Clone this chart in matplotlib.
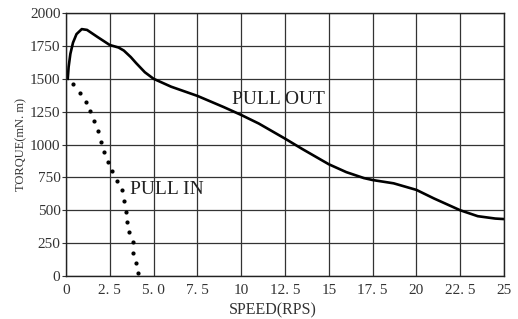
import matplotlib.pyplot as plt

# pull-out torque curve (speed rps, torque mN.m)
out_speed = [0.1, 0.15, 0.25, 0.4, 0.6, 0.9, 1.2, 1.8, 2.5, 3.0, 3.3, 3.7, 4.0, 4.5, 5.0,
             6.0, 7.5, 9.0, 10.0, 11.0, 12.5, 13.5, 15.0, 16.0, 17.0, 17.5, 18.7, 20.0,
             21.0, 22.5, 23.5, 24.5, 25.0]
out_torque = [1500, 1590, 1690, 1775, 1840, 1878, 1872, 1818, 1757, 1738, 1715, 1665, 1620,
              1550, 1500, 1440, 1370, 1285, 1225, 1160, 1045, 965, 850, 790, 745, 730, 705,
              655, 590, 500, 455, 437, 433]

# pull-in points
in_speed = [0.42, 0.8, 1.12, 1.37, 1.6, 1.8, 1.99, 2.17, 2.4, 2.63, 2.93, 3.2, 3.33,
            3.4, 3.48, 3.6, 3.8, 3.84, 4.0, 4.12]
in_torque = [1460, 1392, 1323, 1255, 1179, 1103, 1019, 943, 867, 798, 722, 654, 570,
             487, 411, 335, 258, 175, 99, 23]

xticks = [0, 2.5, 5, 7.5, 10, 12.5, 15, 17.5, 20, 22.5, 25]
xlabels = ['0', '2. 5', '5. 0', '7. 5', '10', '12. 5', '15', '17. 5', '20', '22. 5', '25']
yticks = list(range(0, 2001, 250))

plt.rcParams['font.family'] = ['Liberation Serif', 'DejaVu Serif']

fig = plt.figure(figsize=(5.18, 3.19), dpi=100)
ax = fig.add_axes([0.1274, 0.1348, 0.973 - 0.1274, 0.959 - 0.1348])

ax.plot(out_speed, out_torque, color='black', lw=1.9, solid_joinstyle='round')
ax.plot(in_speed, in_torque, ls='none', marker='o', ms=2.0, color='black')

ax.set_xlim(0, 25)
ax.set_ylim(0, 2000)
ax.set_xticks(xticks)
ax.set_xticklabels(xlabels)
ax.set_yticks(yticks)
ax.grid(True, color='#333333', lw=0.9)
ax.tick_params(axis='x', length=0, labelsize=11, pad=6, colors='#333333')
ax.tick_params(axis='y', length=3, labelsize=11, pad=1, colors='#333333')
for s in ax.spines.values():
    s.set_color('#222222')
    s.set_linewidth(1)

ax.set_xlabel('SPEED(RPS)', fontsize=11.5, color='#333333', labelpad=2)
ax.xaxis.set_label_coords(0.473, -0.1)
ax.set_ylabel('TORQUE(mN. m)', fontsize=9, color='#333333', labelpad=2)

ax.text(12.1, 1345, 'PULL OUT', fontsize=14, color='#222222', ha='center', va='center')
ax.text(3.65, 655, 'PULL IN', fontsize=14, color='#222222', ha='left', va='center')

plt.savefig('out.png', dpi=100)
